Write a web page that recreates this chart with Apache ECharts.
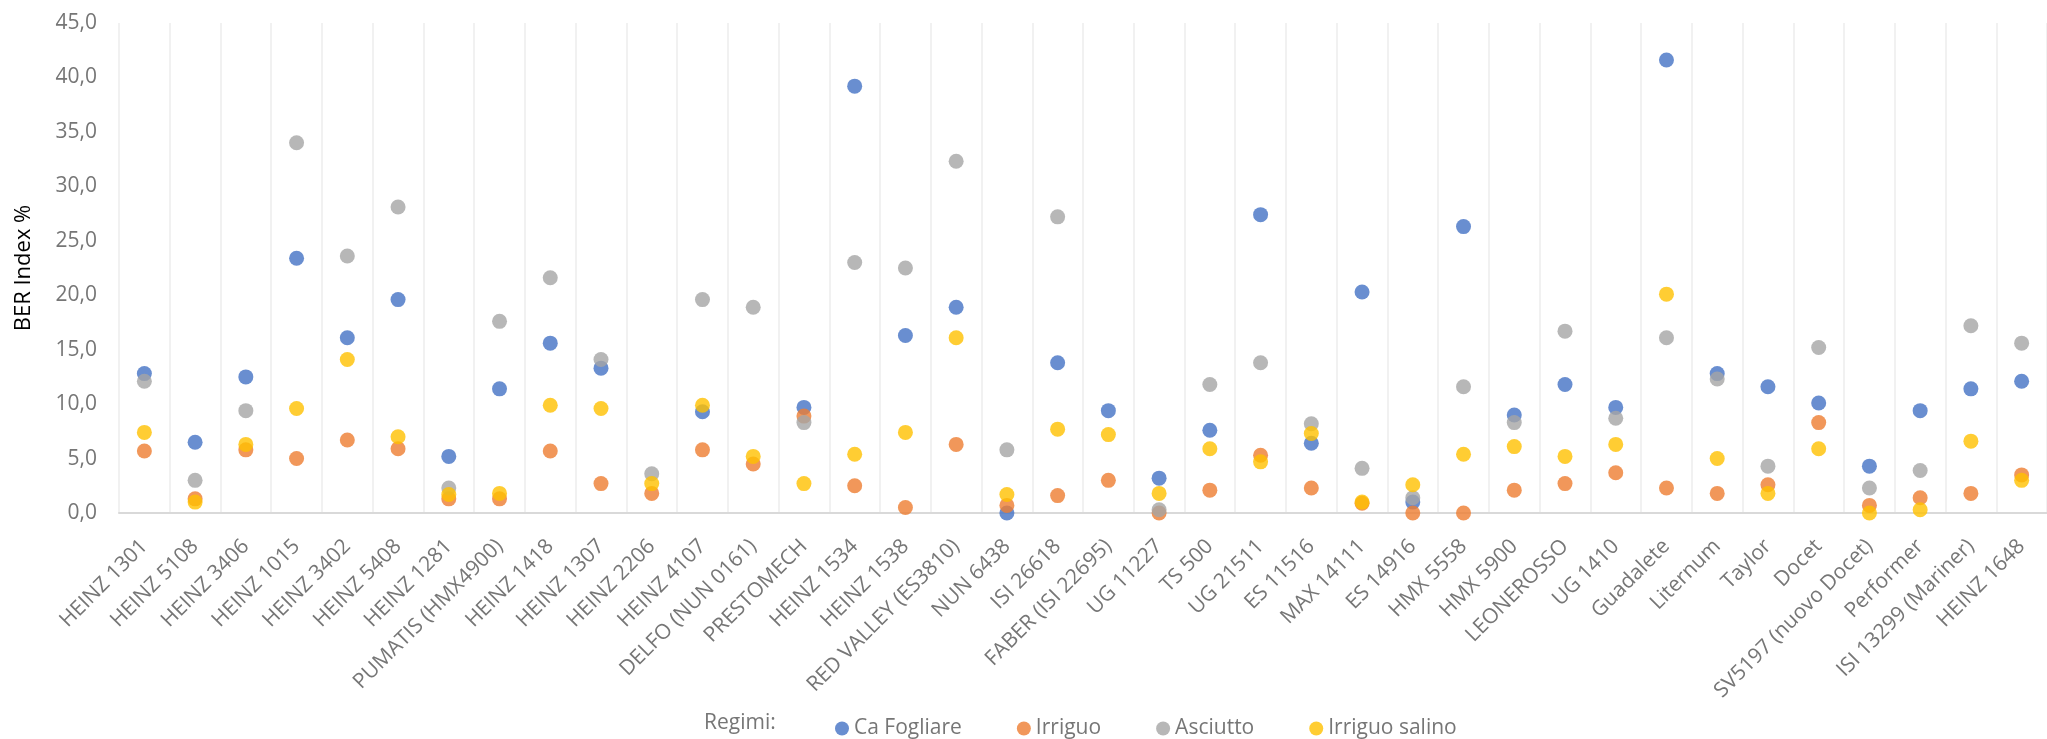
<!DOCTYPE html>
<html>
<head>
<meta charset="utf-8">
<title>BER Index %</title>
<script src="https://cdn.jsdelivr.net/npm/echarts@6/dist/echarts.min.js"></script>
<style>
  html, body { margin: 0; padding: 0; background: #ffffff; }
  #chart { width: 2047px; height: 739px; }
</style>
</head>
<body>
<div id="chart"></div>
<script>
// Varieties on the category axis
const varieties = [
  'HEINZ 1301', 'HEINZ 5108', 'HEINZ 3406', 'HEINZ 1015', 'HEINZ 3402', 'HEINZ 5408',
  'HEINZ 1281', 'PUMATIS (HMX4900)', 'HEINZ 1418', 'HEINZ 1307', 'HEINZ 2206', 'HEINZ 4107',
  'DELFO (NUN 0161)', 'PRESTOMECH', 'HEINZ 1534', 'HEINZ 1538', 'RED VALLEY (ES3810)', 'NUN 6438',
  'ISI 26618', 'FABER (ISI 22695)', 'UG 11227', 'TS 500', 'UG 21511', 'ES 11516',
  'MAX 14111', 'ES 14916', 'HMX 5558', 'HMX 5900', 'LEONEROSSO', 'UG 1410',
  'Guadalete', 'Liternum', 'Taylor', 'Docet', 'SV5197 (nuovo Docet)', 'Performer',
  'ISI 13299 (Mariner)', 'HEINZ 1648'
];

// BER index (%) per irrigation regime; '-' marks a missing measurement
const caFogliare = [
  12.8, 6.5, 12.5, 23.4, 16.1, 19.6,
  5.2, 11.4, 15.6, 13.3, '-', 9.3,
  '-', 9.7, 39.2, 16.3, 18.9, 0.0,
  13.8, 9.4, 3.2, 7.6, 27.4, 6.4,
  20.3, 1.0, 26.3, 9.0, 11.8, 9.7,
  41.6, 12.8, 11.6, 10.1, 4.3, 9.4,
  11.4, 12.1
];
const irriguo = [
  5.7, 1.3, 5.8, 5.0, 6.7, 5.9,
  1.3, 1.3, 5.7, 2.7, 1.8, 5.8,
  4.5, 8.9, 2.5, 0.5, 6.3, 0.7,
  1.6, 3.0, 0.0, 2.1, 5.3, 2.3,
  0.9, 0.0, 0.0, 2.1, 2.7, 3.7,
  2.3, 1.8, 2.6, 8.3, 0.7, 1.4,
  1.8, 3.5
];
const asciutto = [
  12.1, 3.0, 9.4, 34.0, 23.6, 28.1,
  2.3, 17.6, 21.6, 14.1, 3.6, 19.6,
  18.9, 8.3, 23.0, 22.5, 32.3, 5.8,
  27.2, '-', 0.3, 11.8, 13.8, 8.2,
  4.1, 1.4, 11.6, 8.3, 16.7, 8.7,
  16.1, 12.3, 4.3, 15.2, 2.3, 3.9,
  17.2, 15.6
];
const irriguoSalino = [
  7.4, 1.0, 6.3, 9.6, 14.1, 7.0,
  1.7, 1.8, 9.9, 9.6, 2.7, 9.9,
  5.2, 2.7, 5.4, 7.4, 16.1, 1.7,
  7.7, 7.2, 1.8, 5.9, 4.7, 7.3,
  1.0, 2.6, 5.4, 6.1, 5.2, 6.3,
  20.1, 5.0, 1.8, 5.9, 0.0, 0.3,
  6.6, 3.0
];

// Value-axis range and step
const yMin = 0;
const yMax = 45;
const yStep = 5;

const FONT = "'Open Sans', 'Liberation Sans', sans-serif";
const TEXT = '#767676';

const regimes = [
  { name: 'Ca Fogliare', values: caFogliare, color: '#4472C4' },
  { name: 'Irriguo', values: irriguo, color: '#ED7D31' },
  { name: 'Asciutto', values: asciutto, color: '#A5A5A5' },
  { name: 'Irriguo salino', values: irriguoSalino, color: '#FFC000' }
];

const chart = echarts.init(document.getElementById('chart'), null, { renderer: 'canvas' });

chart.setOption({
  animation: false,
  backgroundColor: '#ffffff',
  textStyle: { fontFamily: FONT },
  grid: { left: 119, top: 23, width: 1938, height: 490, containLabel: false },
  xAxis: {
    type: 'category',
    data: varieties,
    boundaryGap: true,
    axisLine: { show: true, lineStyle: { color: '#D9D9D9', width: 2 } },
    axisTick: { show: false },
    splitLine: { show: true, interval: 0, lineStyle: { color: '#EDEDED', width: 1.5 } },
    axisLabel: {
      interval: 0,
      rotate: 45,
      margin: 30,
      fontSize: 21,
      color: TEXT,
      fontFamily: FONT
    }
  },
  yAxis: {
    type: 'value',
    min: yMin,
    max: yMax,
    interval: yStep,
    axisLine: { show: false },
    axisTick: { show: false },
    splitLine: { show: false },
    axisLabel: {
      margin: 22,
      fontSize: 21,
      color: TEXT,
      fontFamily: FONT,
      formatter: function (v) { return v.toFixed(1).replace('.', ','); }
    }
  },
  legend: {
    left: 830,
    top: 713,
    itemGap: 55,
    itemWidth: 14,
    itemHeight: 14,
    icon: 'circle',
    textStyle: { fontSize: 21, color: TEXT, fontFamily: FONT, padding: [0, 0, 0, 0] },
    data: regimes.map(function (r) { return r.name; })
  },
  graphic: [
    {
      type: 'text',
      left: 704,
      top: 713,
      style: { text: 'Regimi:', fontSize: 21, fill: TEXT, fontFamily: FONT }
    },
    {
      type: 'text',
      x: 24,
      y: 268,
      rotation: Math.PI / 2,
      style: {
        text: 'BER Index %',
        fontSize: 22,
        fill: '#000000',
        fontFamily: FONT,
        align: 'center',
        verticalAlign: 'middle'
      }
    }
  ],
  series: regimes.map(function (r) {
    return {
      name: r.name,
      type: 'scatter',
      data: r.values,
      symbol: 'circle',
      symbolSize: 15,
      clip: false,
      itemStyle: { color: r.color },
      emphasis: { disabled: true }
    };
  })
});
</script>
</body>
</html>
